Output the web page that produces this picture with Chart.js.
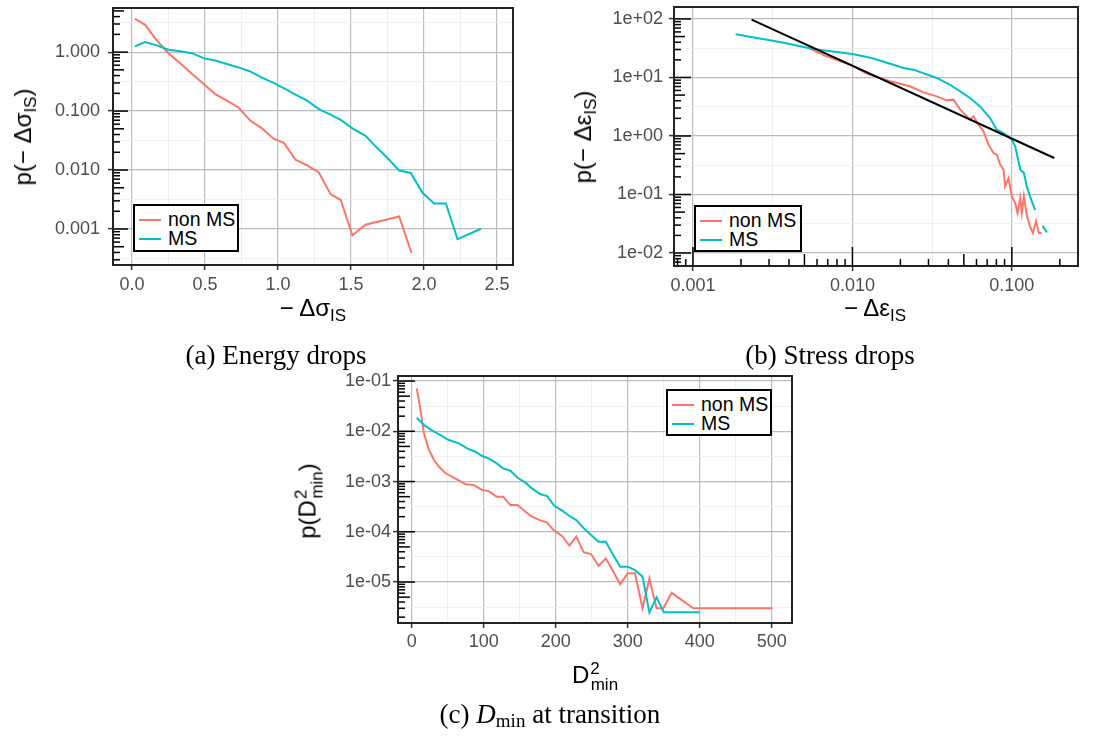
<!DOCTYPE html>
<html>
<head>
<meta charset="utf-8">
<script src="https://cdn.jsdelivr.net/npm/chart.js@4/dist/chart.umd.min.js"></script>
<style>
  body { margin: 0; background: #fff; }
  #page { position: relative; width: 1111px; height: 738px; overflow: hidden; font-family: "Liberation Sans", Arial, sans-serif; }
  canvas { position: absolute; }
  .ttl { position: absolute; font-size: 24px; color: #000; white-space: nowrap; line-height: 1; transform: translate(-50%, -50%); }
  .ttl.rot { transform: translate(-50%, -50%) rotate(-90deg); }
  .ttl sub { font-size: 17px; vertical-align: -5px; }
  .ttl .up { font-size: 17px; vertical-align: 9px; margin-left: 1px; }
  .ttl .dn { font-size: 17px; vertical-align: -7px; margin-left: -9px; }
  .cap { position: absolute; font-family: "Liberation Serif", serif; font-size: 27px; color: #000; white-space: nowrap; transform: translate(-50%, -50%); }
  .cap sub { font-size: 19px; vertical-align: -4px; }
  .legend { position: absolute; border: 2px solid #000; background: #fff; box-sizing: border-box; font-size: 19.5px; padding: 4px 0 0 4px; }
  .legend div { height: 19px; display: flex; align-items: center; }
  .legend .sw { display: inline-block; width: 22px; height: 2px; margin-right: 7px; }
</style>
</head>
<body>
<div id="page">
  <canvas id="ca" width="530" height="300" style="left:0;top:0"></canvas>
  <canvas id="cb" width="540" height="300" style="left:560px;top:0"></canvas>
  <canvas id="cc" width="540" height="300" style="left:280px;top:360px"></canvas>

  <div class="ttl rot" style="left:25px;top:137px">p(− Δσ<sub>IS</sub>)</div>
  <div class="ttl" style="left:313px;top:310px">− Δσ<sub>IS</sub></div>
  <div class="ttl rot" style="left:585px;top:137px">p(− Δε<sub>IS</sub>)</div>
  <div class="ttl" style="left:875px;top:310px">− Δε<sub>IS</sub></div>
  <div class="ttl rot" style="left:309px;top:501px">p(D<span class="up">2</span><span class="dn">min</span>)</div>
  <div class="ttl" style="left:595px;top:676px">D<span class="up">2</span><span class="dn">min</span></div>

  <div class="legend" style="left:133px;top:204px;width:106px;height:48px">
    <div><span class="sw" style="background:#F8766D"></span>non MS</div>
    <div><span class="sw" style="background:#00BFC4"></span>MS</div>
  </div>
  <div class="legend" style="left:694px;top:205px;width:108px;height:47px">
    <div><span class="sw" style="background:#F8766D"></span>non MS</div>
    <div><span class="sw" style="background:#00BFC4"></span>MS</div>
  </div>
  <div class="legend" style="left:666px;top:389px;width:106px;height:47px">
    <div><span class="sw" style="background:#F8766D"></span>non MS</div>
    <div><span class="sw" style="background:#00BFC4"></span>MS</div>
  </div>

  <div class="cap" style="left:276px;top:355px">(a) Energy drops</div>
  <div class="cap" style="left:830px;top:355px">(b) Stress drops</div>
  <div class="cap" style="left:550px;top:715px">(c) <i>D</i><sub>min</sub> at transition</div>
</div>

<script>
var RED = '#F8766D', CYAN = '#00BFC4';

// (a) energy drops
var aNonX = [0.02, 0.09, 0.17, 0.25, 0.33, 0.41, 0.49, 0.57, 0.65, 0.73, 0.81, 0.89, 0.97, 1.04, 1.12, 1.20, 1.28, 1.36, 1.43, 1.51, 1.60, 1.83, 1.915];
var aNonY = [3.67, 2.9, 1.58, 0.96, 0.65, 0.43, 0.29, 0.194, 0.15, 0.115, 0.069, 0.051, 0.034, 0.029, 0.015, 0.012, 0.0091, 0.0039, 0.0031, 0.00078, 0.00118, 0.00163, 0.00039];
var aMsX = [0.02, 0.09, 0.17, 0.25, 0.33, 0.41, 0.49, 0.57, 0.65, 0.73, 0.81, 0.89, 0.97, 1.04, 1.12, 1.20, 1.28, 1.36, 1.43, 1.51, 1.60, 1.67, 1.75, 1.83, 1.91, 1.99, 2.07, 2.15, 2.23, 2.39];
var aMsY = [1.25, 1.48, 1.3, 1.1, 1.03, 0.96, 0.79, 0.72, 0.63, 0.55, 0.47, 0.37, 0.30, 0.245, 0.19, 0.15, 0.108, 0.087, 0.071, 0.051, 0.038, 0.025, 0.016, 0.0098, 0.0089, 0.0041, 0.0027, 0.0027, 0.00067, 0.00101];
var aXMajor = [0, 0.5, 1, 1.5, 2, 2.5];
var aXLabels = ['0.0', '0.5', '1.0', '1.5', '2.0', '2.5'];
var aXMinor = [0.25, 0.75, 1.25, 1.75, 2.25];
var aYMajor = [0.001, 0.01, 0.1, 1];
var aYLabels = ['0.001', '0.010', '0.100', '1.000'];

// (b) stress drops
var bNonX = [0.0054, 0.0069, 0.01, 0.0123, 0.0172, 0.023, 0.0279, 0.0338, 0.039, 0.043, 0.0474, 0.051, 0.0547, 0.0574, 0.0618, 0.0664, 0.0714, 0.0768, 0.0805, 0.0845, 0.0887, 0.0908, 0.0953, 0.1, 0.105, 0.1086, 0.113, 0.1155, 0.119, 0.124, 0.13, 0.1355, 0.142, 0.1476, 0.154];
var bNonY = [31, 23, 15.9, 11.6, 8.6, 7.06, 5.57, 4.76, 4.07, 4.18, 2.82, 2.32, 1.9, 2.17, 1.56, 1.2, 0.71, 0.51, 0.48, 0.324, 0.266, 0.138, 0.19, 0.093, 0.0716, 0.0483, 0.087, 0.0483, 0.093, 0.045, 0.0286, 0.022, 0.0347, 0.022, 0.022];
var bMsX = [0.00185, 0.0035, 0.00569, 0.01, 0.0132, 0.0181, 0.0209, 0.0241, 0.0338, 0.041, 0.0474, 0.0547, 0.0632, 0.073, 0.0805, 0.0887, 0.1, 0.105, 0.113, 0.119, 0.124, 0.130, 0.140, 0.148, 0.156, 0.166];
var bMsY = [54.7, 40.5, 30.7, 25.2, 21.5, 16.5, 14.5, 13.6, 9.8, 7.5, 5.8, 4.47, 3.2, 2.03, 1.28, 1.12, 0.865, 0.665, 0.266, 0.234, 0.138, 0.093, 0.054, null, 0.0293, 0.0225];
var bFitX = [0.00233, 0.1845];
var bFitY = [97.5, 0.42];
var bXMajor = [0.001, 0.01, 0.1];
var bXLabels = ['0.001', '0.010', '0.100'];
var bYMajor = [0.01, 0.1, 1, 10, 100];
var bYLabels = ['1e-02', '1e-01', '1e+00', '1e+01', '1e+02'];

// (c) D2min at transition
var cNonX = [7, 11.5, 17, 24, 31, 38, 47, 56, 66, 75, 86, 98, 107, 118, 127, 137, 147, 158, 167, 178, 188, 197, 209, 219, 228.5, 239, 249, 259.5, 269.5, 280, 289.5, 300, 310, 320.5, 330, 340, 349.5, 361, 391, 501];
var cNonY = [0.0714, 0.0309, 0.0091, 0.00423, 0.00268, 0.00197, 0.00146, 0.00125, 0.00104, 0.00088, 0.00085, 0.000677, 0.000645, 0.0005, 0.0005, 0.00034, 0.00034, 0.000251, 0.0002, 0.000171, 0.000152, 0.000108, 8.2e-5, 5.3e-5, 8e-5, 3.9e-5, 3.6e-5, 2.1e-5, 2.96e-5, 1.6e-5, 9e-6, 1.49e-5, 1.49e-5, 3e-6, 1.18e-5, 3e-6, 3e-6, 6.1e-6, 3e-6, 3e-6];
var cMsX = [7, 17, 28.5, 40, 51.5, 65.5, 77, 88.5, 98, 107, 118, 127, 137, 147, 158, 167, 178, 188, 198, 209, 219, 228.5, 239, 249, 259.5, 269.5, 280, 289.5, 300, 310, 320.5, 330, 340, 350, 400];
var cMsY = [0.0186, 0.0133, 0.0103, 0.0084, 0.0067, 0.00575, 0.00457, 0.00392, 0.00322, 0.00289, 0.0023, 0.00183, 0.00164, 0.00119, 0.00095, 0.00073, 0.000564, 0.000514, 0.00033, 0.000263, 0.000206, 0.000171, 0.000117, 8.6e-5, 6.35e-5, 6.35e-5, 3.4e-5, 2.02e-5, 2.02e-5, 1.73e-5, 1.28e-5, 2.49e-6, 4.95e-6, 2.49e-6, 2.49e-6];
var cXMajor = [0, 100, 200, 300, 400, 500];
var cXLabels = ['0', '100', '200', '300', '400', '500'];
var cXMinor = [50, 150, 250, 350, 450];
var cYMajor = [1e-5, 1e-4, 1e-3, 1e-2, 1e-1];
var cYLabels = ['1e-05', '1e-04', '1e-03', '1e-02', '1e-01'];

function pts(xs, ys) {
  return xs.map(function(x, i) { return {x: x, y: ys[i]}; });
}

// ggplot puts minor log gridlines halfway between the decades
function halfDecades(major) {
  return major.map(function(v) { return v * Math.sqrt(10); }).concat([major[0] / Math.sqrt(10)]);
}

function line(label, xs, ys, color, order) {
  return {label: label, data: pts(xs, ys), borderColor: color, borderWidth: 2,
          pointRadius: 0, tension: 0, fill: false, spanGaps: false, order: order};
}

function axis(type, min, max, major, labels, minor, size, isY, pad) {
  var isMajor = function(v) { return major.indexOf(v) >= 0; };
  return {
    type: type, min: min, max: max, position: isY ? 'left' : 'bottom',
    afterBuildTicks: function(s) {
      s.ticks = major.concat(minor).sort(function(a, b) { return a - b; })
        .filter(function(v) { return v >= min && v <= max; })
        .map(function(v) { return {value: v}; });
    },
    afterFit: function(s) {
      if (isY) s.width = size; else s.height = size;
      // keep label overhang from pushing the plot area around
      s.paddingTop = s.paddingBottom = s.paddingLeft = s.paddingRight = 0;
    },
    border: {display: false},
    grid: {
      color: function(c) { return isMajor(c.tick.value) ? '#bcbcbc' : '#ebebeb'; },
      lineWidth: function(c) { return isMajor(c.tick.value) ? 1.2 : 0.8; },
      tickColor: function(c) { return isMajor(c.tick.value) ? '#333' : 'rgba(0,0,0,0)'; },
      tickLength: 5, tickWidth: 1.5
    },
    ticks: {
      autoSkip: false, maxRotation: 0, minRotation: 0, padding: pad,
      color: '#4d4d4d', font: {family: 'Liberation Sans', size: 18},
      callback: function(v) { var i = major.indexOf(v); return i >= 0 ? labels[i] : ''; }
    }
  };
}

// annotation_logticks style marks + panel border
function panelDecor(marks) {
  return {
    id: 'decor',
    afterDatasetsDraw: function(chart) {
      var ctx = chart.ctx, a = chart.chartArea;
      ctx.save();
      ctx.strokeStyle = '#000';
      ctx.lineWidth = 1.5;
      marks.forEach(function(o) {
        var s = chart.scales[o.axis];
        var lo = Math.floor(Math.log10(s.min)), hi = Math.ceil(Math.log10(s.max));
        for (var k = lo; k <= hi; k++) {
          for (var m = 1; m <= 9; m++) {
            var v = m * Math.pow(10, k);
            if (v < s.min || v > s.max) continue;
            var p = s.getPixelForValue(v);
            var len = m == 1 ? o.len[0] : (m == 5 ? o.len[1] : o.len[2]);
            ctx.beginPath();
            if (o.axis == 'y') { ctx.moveTo(a.left, p); ctx.lineTo(a.left + len, p); }
            else { ctx.moveTo(p, a.bottom); ctx.lineTo(p, a.bottom - len); }
            ctx.stroke();
          }
        }
      });
      ctx.strokeStyle = '#222';
      ctx.lineWidth = 2;
      ctx.strokeRect(a.left, a.top, a.right - a.left, a.bottom - a.top);
      ctx.restore();
    }
  };
}

function makeChart(id, datasets, xs, ys, padding, marks) {
  return new Chart(document.getElementById(id), {
    type: 'line',
    data: {datasets: datasets},
    options: {
      responsive: false, animation: false,
      layout: {padding: padding},
      plugins: {legend: {display: false}, tooltip: {enabled: false}},
      scales: {x: xs, y: ys}
    },
    plugins: [panelDecor(marks)]
  });
}

makeChart('ca',
  [line('non MS', aNonX, aNonY, RED, 2), line('MS', aMsX, aMsY, CYAN, 1)],
  axis('linear', -0.13, 2.61, aXMajor, aXLabels, aXMinor, 35, false, 4),
  axis('logarithmic', 0.000245, 5.6, aYMajor, aYLabels, halfDecades(aYMajor), 113, true, 8),
  {left: 0, top: 8, right: 17, bottom: 0},
  [{axis: 'y', len: [15, 11, 7]}]);

makeChart('cb',
  [line('non MS', bNonX, bNonY, RED, 2), line('MS', bMsX, bMsY, CYAN, 1), line('fit', bFitX, bFitY, '#000', 0)],
  axis('logarithmic', 0.00076, 0.26, bXMajor, bXLabels, halfDecades(bXMajor), 34, false, 4),
  axis('logarithmic', 0.006, 160, bYMajor, bYLabels, halfDecades(bYMajor), 114, true, 6),
  {left: 0, top: 7, right: 22, bottom: 0},
  [{axis: 'y', len: [17, 11, 7]}, {axis: 'x', len: [19, 12, 7]}]);

makeChart('cc',
  [line('non MS', cNonX, cNonY, RED, 2), line('MS', cMsX, cMsY, CYAN, 1)],
  axis('linear', -19, 528, cXMajor, cXLabels, cXMinor, 37, false, 3),
  axis('logarithmic', 1.53e-6, 0.126, cYMajor, cYLabels, halfDecades(cYMajor), 118, true, 2),
  {left: 0, top: 16, right: 28, bottom: 0},
  [{axis: 'y', len: [17, 12, 7]}]);
</script>
</body>
</html>
